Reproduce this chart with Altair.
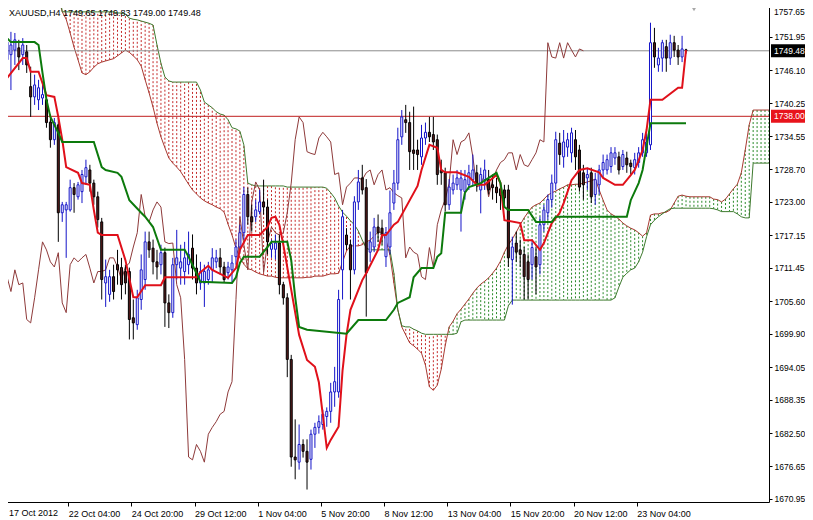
import altair as alt
import pandas as pd

SYMBOL_TEXT = "XAUUSD,H4  1749.65 1749.83 1749.00 1749.48"

OPEN = [1747.9,1748.8,1749.6,1750.0,1748.8,1749.3,1743.2,1741.4,1740.9,1741.2,
        1740.9,1737.0,1733.9,1736.5,1721.1,1721.6,1721.6,1725.5,1723.9,1724.8,
        1727.4,1728.6,1726.3,1723.9,1719.5,1708.8,1706.8,1709.9,1712.0,1711.5,
        1710.8,1710.8,1702.7,1701.5,1705.9,1709.4,1716.0,1714.9,1712.5,1712.0,
        1714.1,1705.3,1703.6,1712.0,1711.4,1710.8,1712.0,1714.9,1711.4,1708.8,
        1708.8,1709.4,1711.1,1712.5,1713.2,1711.6,1710.6,1711.1,1713.4,1715.1,
        1717.6,1724.3,1720.4,1720.4,1721.3,1723.0,1722.1,1714.7,1714.7,1715.8,
        1708.5,1706.2,1695.4,1678.3,1677.4,1680.5,1679.3,1677.9,1682.3,1683.5,
        1684.0,1685.4,1686.3,1689.7,1689.7,1711.1,1717.2,1715.5,1711.1,1723.0,
        1727.2,1725.5,1714.2,1715.1,1718.6,1718.4,1713.4,1715.1,1722.8,1726.3,
        1734.4,1737.4,1736.9,1732.1,1732.1,1730.9,1734.2,1735.2,1734.8,1733.9,
        1728.6,1728.1,1722.5,1725.1,1726.0,1725.1,1724.8,1726.0,1726.9,1728.1,
        1725.1,1726.9,1726.9,1726.0,1725.6,1725.3,1725.1,1725.1,1712.9,1715.8,
        1714.6,1713.8,1712.5,1712.0,1713.4,1712.0,1719.0,1721.1,1723.4,1726.3,
        1733.3,1730.9,1732.6,1731.6,1733.9,1732.1,1728.1,1727.2,1728.1,1724.3,
        1726.0,1728.6,1728.6,1729.2,1730.7,1730.9,1729.2,1730.7,1729.8,1729.0,
        1729.9,1731.6,1731.6,1733.0,1750.9,1747.0,1748.2,1750.2,1748.2,1750.9,
        1749.6,1748.4,1749.65]
HIGH = [1753.1,1752.8,1752.6,1751.4,1751.7,1750.5,1746.7,1745.3,1744.4,1743.5,
        1741.8,1738.3,1737.7,1737.7,1723.0,1723.0,1726.9,1726.3,1726.5,1728.6,
        1730.4,1729.5,1726.9,1724.8,1720.2,1712.9,1711.1,1712.0,1714.6,1713.2,
        1712.0,1711.5,1705.9,1707.6,1713.8,1717.8,1717.8,1716.4,1714.6,1715.5,
        1715.0,1706.8,1713.2,1718.1,1715.5,1716.0,1717.8,1717.3,1713.8,1712.5,
        1712.0,1712.5,1714.9,1714.6,1714.9,1712.5,1712.5,1713.7,1716.4,1719.0,
        1725.6,1725.5,1722.5,1723.4,1725.1,1726.9,1723.4,1716.4,1717.3,1717.3,
        1709.0,1707.0,1696.2,1684.9,1684.0,1681.4,1681.4,1683.1,1684.3,1685.6,
        1686.6,1687.0,1691.3,1694.1,1707.6,1721.6,1718.4,1716.4,1724.0,1728.6,
        1729.5,1727.0,1717.8,1720.2,1720.8,1719.9,1718.6,1725.0,1728.6,1736.0,
        1739.1,1740.0,1738.8,1739.7,1733.9,1736.5,1736.9,1737.9,1737.9,1734.8,
        1730.4,1729.0,1727.0,1727.8,1728.6,1728.6,1728.6,1729.5,1731.3,1729.5,
        1729.0,1730.4,1728.6,1727.8,1727.2,1726.3,1726.0,1726.0,1716.9,1717.8,
        1716.4,1715.1,1713.8,1716.4,1715.1,1720.4,1722.5,1724.3,1727.8,1735.3,
        1735.1,1735.6,1735.1,1736.0,1735.6,1733.0,1729.5,1729.0,1729.0,1728.1,
        1729.5,1731.3,1731.3,1732.6,1732.6,1731.8,1732.1,1731.8,1730.4,1731.6,
        1732.6,1735.1,1735.0,1754.4,1753.5,1750.0,1751.4,1751.4,1752.3,1752.1,
        1750.5,1752.1,1749.83]
LOW = [1742.6,1742.6,1747.0,1746.1,1747.0,1745.6,1737.9,1740.0,1739.1,1740.0,
       1736.0,1732.5,1733.0,1716.0,1719.5,1713.2,1721.3,1721.1,1723.4,1722.8,
       1726.0,1724.8,1722.5,1718.5,1705.9,1704.6,1705.5,1705.9,1708.5,1705.9,
       1706.8,1698.9,1698.9,1700.6,1704.1,1707.6,1713.2,1710.3,1709.4,1710.3,
       1701.1,1700.9,1702.7,1709.4,1708.5,1708.5,1710.3,1709.4,1706.8,1707.6,
       1704.6,1708.5,1708.8,1711.4,1710.3,1708.8,1709.4,1708.8,1712.0,1714.2,
       1716.4,1719.0,1717.8,1719.5,1720.8,1720.8,1713.8,1713.2,1712.9,1706.8,
       1705.0,1692.3,1676.6,1674.4,1676.1,1678.2,1672.6,1676.1,1679.9,1682.4,
       1683.1,1683.6,1684.3,1687.1,1688.7,1705.9,1714.6,1705.9,1710.3,1721.6,
       1724.3,1702.9,1712.5,1714.2,1716.0,1715.5,1711.6,1713.8,1721.6,1725.1,
       1733.0,1735.1,1728.6,1728.6,1728.6,1729.5,1733.0,1733.5,1732.1,1726.0,
       1726.0,1721.3,1721.6,1724.3,1725.1,1717.8,1723.4,1725.1,1725.8,1724.8,
       1721.0,1725.1,1724.3,1723.4,1722.8,1721.6,1722.5,1711.6,1705.0,1712.5,
       1711.6,1705.9,1705.9,1709.4,1706.8,1710.3,1717.8,1719.9,1722.0,1725.1,
       1729.5,1729.0,1730.9,1729.9,1728.6,1724.8,1723.4,1725.1,1722.8,1722.5,
       1724.3,1727.2,1727.8,1728.1,1729.5,1727.8,1728.6,1728.1,1727.8,1727.8,
       1729.0,1730.9,1730.9,1732.1,1746.5,1745.8,1745.8,1745.8,1747.0,1748.4,
       1747.0,1747.5,1749.00]
CLOSE = [1751.0,1750.5,1751.4,1748.4,1750.5,1747.0,1741.4,1743.5,1743.0,1741.8,
         1736.9,1733.9,1736.9,1721.1,1722.5,1722.5,1725.5,1724.3,1726.0,1727.8,
         1729.0,1726.3,1723.9,1719.9,1709.4,1709.9,1709.9,1707.3,1711.1,1708.5,
         1708.8,1702.4,1701.8,1706.2,1711.1,1716.0,1714.6,1712.5,1711.6,1714.1,
         1705.3,1703.6,1712.0,1713.2,1712.5,1713.2,1713.8,1711.4,1708.8,1710.8,
         1710.8,1711.1,1713.2,1713.2,1711.6,1709.4,1711.6,1712.3,1715.1,1717.6,
         1724.3,1720.4,1719.5,1721.6,1723.0,1722.1,1716.0,1715.7,1715.8,1708.5,
         1706.2,1695.4,1678.3,1677.8,1680.5,1679.3,1677.4,1682.3,1683.5,1684.5,
         1685.8,1686.3,1689.7,1691.5,1705.9,1720.4,1715.5,1711.1,1723.0,1726.5,
         1725.1,1710.6,1716.0,1718.6,1717.6,1717.2,1717.6,1721.1,1726.3,1733.9,
         1737.9,1736.9,1731.8,1731.5,1731.3,1734.2,1735.2,1734.4,1733.5,1727.8,
         1728.1,1722.5,1725.6,1726.3,1727.2,1727.2,1726.9,1728.1,1728.6,1726.0,
         1727.8,1728.6,1725.1,1725.5,1724.6,1724.1,1723.7,1713.2,1715.1,1714.2,
         1713.8,1709.9,1709.4,1715.0,1711.6,1719.0,1721.6,1723.4,1726.3,1733.9,
         1731.3,1733.5,1733.9,1735.1,1730.9,1725.6,1726.0,1727.8,1723.9,1726.9,
         1728.6,1729.9,1730.4,1731.6,1731.6,1728.6,1731.3,1729.5,1729.2,1730.4,
         1731.6,1733.9,1733.5,1750.9,1748.4,1748.2,1750.9,1748.2,1750.9,1749.6,
         1748.4,1749.8,1749.48]

TENKAN_BAR = [0,4,5,6,8,9,10,12,13,14,15,18,19,21,22,23,24,28,30,32,33,35,39,40,48,49,51,52,56,58,
              59,61,64,66,67,68,69,70,72,74,76,78,79,81,82,84,85,86,87,90,91,94,95,96,98,99,104,105,107,109,
              110,111,114,117,119,121,124,125,126,130,131,133,135,136,138,140,141,143,145,147,150,151,154,156,158,159,160,161,162,163,
              166,170,171,172]
TENKAN = [1744.7,1748.2,1748.2,1745.8,1745.8,1743.8,1741.7,1741.4,1737.9,1733.9,
          1729.1,1728.1,1726.3,1726.0,1721.6,1717.6,1717.2,1717.2,1712.8,1706.3,
          1706.3,1708.4,1708.4,1709.8,1709.8,1710.7,1711.8,1711.1,1709.7,1711.4,
          1714.6,1717.2,1717.2,1718.6,1720.2,1720.4,1719.0,1715.5,1707.6,1699.7,
          1695.3,1694.1,1691.4,1679.9,1681.3,1683.6,1693.5,1699.7,1704.1,1709.3,
          1710.5,1714.6,1717.2,1717.2,1719.0,1719.5,1725.8,1728.6,1733.0,1732.5,
          1728.6,1728.2,1728.2,1727.4,1726.0,1726.0,1727.7,1726.3,1719.8,1719.3,
          1716.3,1716.3,1714.6,1715.8,1719.3,1721.1,1722.8,1726.8,1728.6,1728.9,
          1728.2,1727.2,1726.0,1726.0,1727.7,1728.6,1730.3,1732.1,1735.6,1740.9,
          1740.9,1743.0,1743.0,1749.6]

KIJUN_BAR = [0,1,7,8,9,10,11,13,14,22,24,25,28,29,31,34,35,37,39,45,
             46,48,49,57,58,59,60,64,66,67,71,72,73,74,76,86,89,96,98,99,
             102,103,105,108,109,110,111,115,116,117,120,124,125,126,127,132,134,138,139,157,
             158,160,161,163,172]
KIJUN = [1751.7,1751.0,1751.0,1750.5,1745.6,1740.9,1737.9,1735.1,1733.5,1733.5,
         1729.1,1728.6,1728.1,1727.4,1723.3,1721.1,1720.4,1718.6,1714.6,1714.6,
         1713.4,1710.5,1709.0,1708.8,1709.8,1712.3,1713.4,1713.4,1715.1,1716.0,
         1716.0,1712.8,1706.3,1701.1,1700.6,1699.9,1702.3,1702.3,1704.1,1705.3,
         1706.3,1709.8,1711.4,1711.4,1713.4,1714.0,1721.1,1721.1,1724.6,1725.6,
         1726.3,1728.1,1726.3,1722.1,1721.6,1721.6,1719.5,1719.5,1720.4,1720.4,
         1723.3,1726.3,1728.6,1736.8,1736.8]

SPAN_A = ([1762.0] * 13 + [1759.0,
          1756.3,1755.0,1752.6,1750.1,1747.9,1745.6,1745.3,1745.8,1746.6,1747.2,
          1747.5,1747.7,1747.9,1748.1,1748.6,1749.1,1749.6,1749.2,1748.6,1747.9,
          1746.8,1744.4,1742.1,1739.6,1736.8,1734.4,1732.5,1730.7,1729.8,1729.1,
          1728.3,1727.2,1726.1,1725.1,1724.4,1723.7,1723.2,1722.8,1722.5,1722.1,
          1721.8,1721.2,1719.1,1717.2,1714.9,1713.2,1712.1,1711.3,1711.1,1710.7,
          1710.4,1710.2,1710.0,1710.0,1709.8]
          + [1709.7] * 7 + [1709.8, 1709.8,
          1710.0,1710.0,1710.0,1710.2,1710.4,1710.4,1710.5,1712.5,1714.4,1715.3,
          1715.3,1715.3,1715.5,1716.0,1716.3,1717.0,1717.7,1717.7,1716.3,1713.7,
          1708.8,1704.1,1701.1,1699.7,1698.3,1697.8,1697.2,1696.5,1694.4,1690.6,
          1690.0,1690.9,1693.7,1697.8,1701.1,1702.1,1703.4,1704.2,1705.1,1706.0,
          1707.0,1707.9,1708.6,1709.1,1709.7,1710.5,1711.4,1712.6,1714.2,1715.5,
          1716.5,1717.7,1719.0,1720.2,1721.2,1722.1,1722.5,1722.8,1723.5,1724.2,
          1724.6,1724.9,1725.3,1725.6,1726.0,1726.0,1726.1,1726.1,1726.3,1726.5,
          1726.7,1727.0,1725.1,1723.3,1721.6,1720.9,1720.5,1720.0,1719.3,1718.8,
          1718.4,1718.1,1717.6,1717.0,1717.6,1720.7,1720.9,1720.9,1721.1,1721.2,
          1721.6,1722.8,1724.0,1724.2,1724.0]
          + [1723.9] * 6 + [1723.5,1723.4,1723.0,1723.5,1724.4,1725.3,1726.1,1728.1,1732.1,1736.5]
          + [1739.1] * 5)

SPAN_B = ([1761.0] * 14 + [1756.3] * 14 +
          [1756.1,1756.1,1755.9,1755.2,1755.0,1754.9,1754.7,1754.5,1754.3,1754.0,1750.5,1747.3,1744.9,1744.2]
          + [1744.0] * 7 +
          [1742.6,1740.5,1740.0,1739.5,1738.8,1738.4,1738.2,1737.4,1736.0,1735.8,1735.4,1733.0,1726.3,1726.0]
          + [1725.8] * 8 + [1725.6] * 10 +
          [1725.4,1724.6,1723.7,1722.3,1721.2,1720.5,1719.7,1719.0,1717.9,1716.3,1714.9]
          + [1714.6] * 6 +
          [1710.5,1704.1,1701.3,1701.1,1701.1,1700.7,1700.4,1700.0]
          + [1699.8] * 8 + [1700.0, 1702.0] + [1702.3] * 11 + [1704.8] + [1705.8] * 26 +
          [1706.2,1708.1,1709.8,1710.5,1711.1,1711.4,1712.5,1714.2,1716.9,1719.0,1719.8,1720.4,1720.9,1721.4,1721.8]
          + [1721.9] * 10 + [1721.8, 1721.6] + [1721.3] * 4 + [1720.9, 1720.4, 1720.2, 1720.2]
          + [1729.8] * 5)

CHIKOU_SHIFT = 26

X_TICK_BARS = [0, 16, 32, 48, 64, 80, 96, 112, 128, 144, 160]
X_TICK_LABELS = ["17 Oct 2012", "22 Oct 04:00", "24 Oct 20:00", "29 Oct 12:00",
                 "1 Nov 04:00", "5 Nov 20:00", "8 Nov 12:00", "13 Nov 04:00",
                 "15 Nov 20:00", "20 Nov 12:00", "23 Nov 04:00"]
Y_TICKS = [1757.65, 1751.95, 1746.10, 1740.25, 1734.55, 1728.70, 1723.00, 1717.15,
           1711.45, 1705.60, 1699.90, 1694.05, 1688.35, 1682.50, 1676.65, 1670.95]
LAST_PRICE = 1749.48
LEVEL_PRICE = 1738.00

# ---- styles ----
FONT = "Liberation Sans"
BULL = "#1414C8"
BEAR_FILL = "#5A1C1C"
TENKAN_C = "#E0101A"
KIJUN_C = "#0C7A0C"
SPAN_A_C = "#A83A32"
SPAN_B_C = "#3E7A2E"
CHIKOU_C = "#8E3A3A"
HATCH_RED = "#C42A2A"
HATCH_GREEN = "#2A8A2A"

PLOT_W = 769
XS = alt.Scale(domain=[0, PLOT_W / 4.0], nice=False, zero=False)
YS = alt.Scale(domain=[1670.42, 1758.38], nice=False, zero=False)

n = len(CLOSE)
candles = pd.DataFrame({
    "u": [i + 0.5 for i in range(n)],
    "o": OPEN, "h": HIGH, "l": LOW, "c": CLOSE,
})
candles["lo"] = candles[["o", "c"]].min(axis=1)
candles["hi"] = candles[["o", "c"]].max(axis=1)

spans = pd.DataFrame({"u": [i + 0.5 for i in range(len(SPAN_A))], "a": SPAN_A, "b": SPAN_B})
tenkan = pd.DataFrame({"u": [b + 0.5 for b in TENKAN_BAR], "p": TENKAN, "n": list(range(len(TENKAN)))})
kijun = pd.DataFrame({"u": [b + 0.5 for b in KIJUN_BAR], "p": KIJUN, "n": list(range(len(KIJUN)))})
chikou = pd.DataFrame({"u": [i - CHIKOU_SHIFT + 0.5 for i in range(CHIKOU_SHIFT, n)],
                       "p": CLOSE[CHIKOU_SHIFT:]})

# first x label and top y label are drawn separately (the page clips the outer pixels)
label_js = "[" + ",".join("'%s'" % (s if k else "") for k, s in enumerate(X_TICK_LABELS)) + \
           "][round(datum.value / 16)]"
y_label_js = "datum.value > %.2f ? '' : format(datum.value, '.2f')" % (Y_TICKS[1] + 0.5)

X_AXIS = alt.Axis(values=X_TICK_BARS, labelExpr=label_js, orient="bottom", labelAlign="left",
                  labelBaseline="top", labelPadding=3, tickSize=4, tickColor="black",
                  domainColor="black", labelColor="black", labelFont=FONT, labelFontSize=9,
                  grid=False, title=None, labelFlush=False, labelOverlap=False, labelBound=False)
Y_AXIS = alt.Axis(values=Y_TICKS, labelExpr=y_label_js, orient="right", tickSize=3, labelPadding=2,
                  tickColor="black", domainColor="black", labelColor="black", labelFont=FONT,
                  labelFontSize=8.5, grid=False, title=None, labelOverlap=False, labelFlush=False)


def X():
    return alt.X("u:Q", scale=XS, axis=X_AXIS)


def Y(field):
    return alt.Y(field, scale=YS, axis=Y_AXIS)


cloud = alt.Chart(spans).mark_rule(strokeWidth=1, strokeDash=[2, 2], clip=True).encode(
    x=X(), y=Y("a:Q"), y2="b:Q",
    color=alt.condition("datum.a >= datum.b", alt.value(HATCH_GREEN), alt.value(HATCH_RED)))
span_a = alt.Chart(spans).mark_line(strokeWidth=1, color=SPAN_A_C, clip=True).encode(
    x=X(), y=Y("a:Q"))
span_b = alt.Chart(spans).mark_line(strokeWidth=1, color=SPAN_B_C, clip=True).encode(
    x=X(), y=Y("b:Q"))

levels = alt.Chart(pd.DataFrame({"p": [LAST_PRICE, LEVEL_PRICE], "k": ["last", "level"]})).mark_rule(
    strokeWidth=1).encode(
    y=Y("p:Q"),
    color=alt.Color("k:N", scale=alt.Scale(domain=["last", "level"], range=["#8C8C8C", "#C01E1E"]), legend=None))

chik = alt.Chart(chikou).mark_line(strokeWidth=1, color=CHIKOU_C, clip=True).encode(
    x=X(), y=Y("p:Q"))

wicks = alt.Chart(candles).mark_rule(strokeWidth=1, clip=True).encode(
    x=X(), y=Y("l:Q"), y2="h:Q",
    color=alt.condition("datum.c >= datum.o", alt.value(BULL), alt.value("#000000")))
bodies = alt.Chart(candles).mark_bar(size=2, strokeWidth=1, clip=True).encode(
    x=X(), y=Y("lo:Q"), y2="hi:Q",
    fill=alt.condition("datum.c >= datum.o", alt.value("#FFFFFF"), alt.value(BEAR_FILL)),
    stroke=alt.condition("datum.c >= datum.o", alt.value(BULL), alt.value("#000000")))

tk = alt.Chart(tenkan).mark_line(strokeWidth=2, color=TENKAN_C, clip=True).encode(
    x=X(), y=Y("p:Q"), order="n:Q")
kj = alt.Chart(kijun).mark_line(strokeWidth=2, color=KIJUN_C, clip=True).encode(
    x=X(), y=Y("p:Q"), order="n:Q")

tags = pd.DataFrame({"p": [LAST_PRICE, LEVEL_PRICE], "t": ["1749.48", "1738.00"],
                     "bg": ["#000000", "#E8141C"]})
tag_bg = alt.Chart(tags).mark_point(shape="M-1,-0.38H1V0.38H-1Z", size=1156, filled=True,
                                    opacity=1, strokeWidth=0).encode(
    x=alt.value(PLOT_W + 19), y=Y("p:Q"),
    color=alt.Color("bg:N", scale=None, legend=None))
tag_txt = alt.Chart(tags).mark_text(align="left", baseline="middle", font=FONT, fontSize=8.5,
                                    color="#FFFFFF").encode(
    x=alt.value(PLOT_W + 5), y=Y("p:Q"), text="t:N")

top_label = alt.Chart(pd.DataFrame({"t": ["%.2f" % Y_TICKS[0]]})).mark_text(
    align="left", baseline="top", font=FONT, fontSize=8.5, color="#000000").encode(
    x=alt.value(PLOT_W + 5), y=alt.value(8), text="t:N")

title = alt.Chart(pd.DataFrame({"t": [SYMBOL_TEXT]})).mark_text(
    align="left", baseline="alphabetic", font=FONT, fontSize=9, color="#000000").encode(
    x=alt.value(9), y=alt.value(16), text="t:N")
first_label = alt.Chart(pd.DataFrame({"t": [X_TICK_LABELS[0]]})).mark_text(
    align="left", baseline="top", font=FONT, fontSize=9, color="#000000").encode(
    x=alt.value(9), y=alt.value(509), text="t:N")
marker = alt.Chart(pd.DataFrame({"t": [0]})).mark_point(
    shape="triangle-down", filled=True, size=60, color="#A8A8A8", opacity=1).encode(
    x=alt.value(694), y=alt.value(8))

chart = alt.layer(cloud, span_a, span_b, levels, chik, wicks, bodies, tk, kj,
                  tag_bg, tag_txt, top_label, title, first_label, marker).properties(
    width=PLOT_W, height=502,
    padding={"left": -8, "top": -8, "right": 797 - PLOT_W + 8, "bottom": 18},
    autosize=alt.AutoSizeParams(type="none"),
    background="#FFFFFF",
).configure_view(stroke=None)

chart.save("out.html", embed_options={"renderer": "svg", "actions": False})
